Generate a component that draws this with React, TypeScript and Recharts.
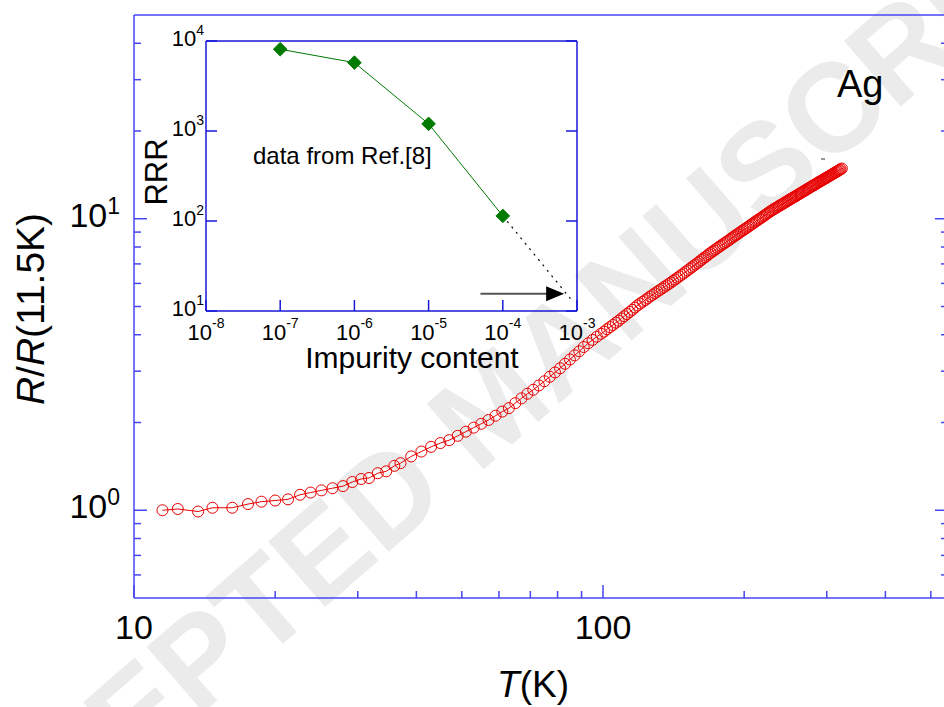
import { Line, LineChart, ReferenceLine, XAxis, YAxis } from "recharts";

// main curve: R/R(11.5K) of Ag vs temperature
const tempK = [
  11.5, 12.4, 13.7, 14.7, 16.2, 17.5, 18.7, 20.0, 21.3, 22.6, 23.8, 25.1, 26.5, 27.9, 29.2, 30.5, 31.7, 33.1, 34.5, 35.9, 37.0,
  39, 41, 43, 45, 47, 49, 51, 53, 55, 57, 59, 61, 63, 65, 67, 69, 71, 73, 75, 77, 79, 81, 83, 85, 87, 89, 91, 93, 95, 97, 99,
  102, 105, 108, 111, 114, 117, 120, 123, 126, 129, 132, 135, 138, 141, 144, 147, 150, 153, 156, 159, 162, 165, 168, 171,
  174, 177, 180, 183, 186, 189, 192, 195, 198, 201, 204, 207, 210, 213, 216, 219, 222, 225, 228, 231, 234, 237, 240, 243,
  246, 249, 252, 255, 258, 261, 264, 267, 270, 273, 276, 279, 282, 285, 288, 291, 294, 297, 300, 303, 306, 309, 312, 315,
  318, 321, 323,
];
const ratio = [
  1.0, 1.01, 0.99, 1.02, 1.02, 1.05, 1.07, 1.08, 1.09, 1.13, 1.15, 1.17, 1.19, 1.21, 1.25, 1.28, 1.29, 1.34, 1.36, 1.42, 1.45,
  1.53, 1.59, 1.65, 1.7, 1.74, 1.8, 1.86, 1.92, 1.98, 2.04, 2.11, 2.18, 2.24, 2.33, 2.42, 2.51, 2.59, 2.68, 2.77, 2.87, 2.97,
  3.07, 3.18, 3.29, 3.4, 3.51, 3.63, 3.74, 3.84, 3.94, 4.03,
  4.18, 4.32, 4.47, 4.63, 4.79, 4.96, 5.12, 5.26, 5.41, 5.55, 5.69, 5.83, 5.97, 6.12, 6.27, 6.42, 6.57, 6.73, 6.89, 7.05,
  7.22, 7.38, 7.55, 7.71, 7.86, 8.02, 8.17, 8.32, 8.47, 8.63, 8.78, 8.93, 9.09, 9.24, 9.39, 9.55, 9.7, 9.86, 10.01, 10.16,
  10.32, 10.48, 10.63, 10.77, 10.91, 11.04, 11.18, 11.31, 11.45, 11.58, 11.72, 11.85, 11.98, 12.12, 12.25, 12.39, 12.52,
  12.66, 12.79, 12.93, 13.06, 13.19, 13.33, 13.46, 13.59, 13.72, 13.85, 13.98, 14.11, 14.25, 14.38, 14.51, 14.64, 14.78,
  14.87,
];
// the in-between readings where the high-T points pile up into a solid band
const tempHalf = [
  100.5, 103.5, 106.5, 109.5, 112.5, 115.5, 118.5, 121.5, 124.5, 127.5, 130.5, 133.5, 136.5, 139.5, 142.5, 145.5, 148.5,
  151.5, 154.5, 157.5, 160.5, 163.5, 166.5, 169.5, 172.5, 175.5, 178.5, 181.5, 184.5, 187.5, 190.5, 193.5, 196.5, 199.5,
  202.5, 205.5, 208.5, 211.5, 214.5, 217.5, 220.5, 223.5, 226.5, 229.5, 232.5, 235.5, 238.5, 241.5, 244.5, 247.5, 250.5,
  253.5, 256.5, 259.5, 262.5, 265.5, 268.5, 271.5, 274.5, 277.5, 280.5, 283.5, 286.5, 289.5, 292.5, 295.5, 298.5, 301.5,
  304.5, 307.5, 310.5, 313.5, 316.5, 319.5,
];
const ratioHalf = [
  4.1, 4.25, 4.4, 4.55, 4.71, 4.87, 5.04, 5.19, 5.33, 5.48, 5.62, 5.76, 5.9, 6.04, 6.19, 6.34, 6.49,
  6.65, 6.81, 6.97, 7.13, 7.3, 7.46, 7.63, 7.78, 7.94, 8.09, 8.24, 8.39, 8.55, 8.7, 8.85, 9.01, 9.16,
  9.31, 9.47, 9.62, 9.78, 9.93, 10.08, 10.24, 10.4, 10.55, 10.7, 10.84, 10.97, 11.11, 11.24, 11.38, 11.51, 11.65,
  11.78, 11.91, 12.05, 12.18, 12.32, 12.45, 12.59, 12.72, 12.86, 12.99, 13.12, 13.26, 13.39, 13.52, 13.65, 13.78, 13.91,
  14.04, 14.18, 14.31, 14.44, 14.57, 14.71,
];

// inset: RRR vs impurity content (Ref. [8])
const impurity = [1e-7, 1e-6, 1e-5, 1e-4];
const rrr = [8100, 5750, 1200, 114];
const extrapImpurity = [1e-4, 8.8e-4];
const extrapRrr = [114, 12.7];
const arrowImpurity = [5.0e-5, 6.7e-4];
const arrowRrr = 15.5;

const mainXTicks = [10, 20, 30, 40, 50, 60, 70, 80, 90, 100, 200, 300, 400, 500];
const mainYTicks = [0.6, 0.7, 0.8, 0.9, 1, 2, 3, 4, 5, 6, 7, 8, 9, 10, 20, 30, 40];
const insetXTicks = [1e-8, 1e-7, 1e-6, 1e-5, 1e-4, 1e-3];
const insetYTicks = [10, 100, 1000, 10000];

const mainData = [
  ...tempK.map((t, i) => ({ t, r: ratio[i] })),
  ...tempHalf.map((t, i) => ({ t, r: ratioHalf[i] })),
].sort((a, b) => a.t - b.t);
const insetData = impurity.map((x, i) => ({ x, y: rrr[i] }));

const FONT = "'Liberation Sans', Arial, sans-serif";
const BLUE = "#4646f0";
const INSET_BLUE = "#1818d8";
const RED = "#e80000";
const GREEN = "#007a00";

const exp10 = (v: number) => Math.round(Math.log10(v));
const isMainX = (v: number) => v === 10 || v === 100;
const isMainY = (v: number) => v === 1 || v === 10;

const BottomTick = (p: any) => {
  const v = p.payload.value;
  const major = isMainX(v);
  return (
    <g>
      <line x1={p.x} y1={p.y} x2={p.x} y2={p.y - (major ? 13 : 7)} stroke={BLUE} strokeWidth={1.5} />
      {major && (
        <text x={p.x} y={p.y + 41} textAnchor="middle" fontSize={34} fontFamily={FONT} fill="#000">
          {v}
        </text>
      )}
    </g>
  );
};

const TopTick = (p: any) => {
  const major = isMainX(p.payload.value);
  return <line x1={p.x} y1={p.y} x2={p.x} y2={p.y + (major ? 13 : 7)} stroke={BLUE} strokeWidth={1.5} />;
};

const LeftTick = (p: any) => {
  const v = p.payload.value;
  const major = isMainY(v);
  return (
    <g>
      <line x1={p.x} y1={p.y} x2={p.x + (major ? 13 : 7)} y2={p.y} stroke={BLUE} strokeWidth={1.5} />
      {major && (
        <text x={p.x - 14} y={p.y + 8} textAnchor="end" fontSize={34} fontFamily={FONT} fill="#000">
          10
          <tspan dy={-13} fontSize={23}>
            {exp10(v)}
          </tspan>
        </text>
      )}
    </g>
  );
};

const RightTick = (p: any) => {
  const major = isMainY(p.payload.value);
  return <line x1={p.x} y1={p.y} x2={p.x - (major ? 13 : 7)} y2={p.y} stroke={BLUE} strokeWidth={1.5} />;
};

const InsetBottomTick = (p: any) => (
  <g>
    <line x1={p.x} y1={p.y} x2={p.x} y2={p.y - 11} stroke={INSET_BLUE} strokeWidth={1.5} />
    <text x={p.x} y={p.y + 29} textAnchor="middle" fontSize={22} fontFamily={FONT} fill="#000">
      10
      <tspan dy={-12} fontSize={14}>
        {exp10(p.payload.value)}
      </tspan>
    </text>
  </g>
);

const InsetTopTick = (p: any) => (
  <line x1={p.x} y1={p.y} x2={p.x} y2={p.y + 11} stroke={INSET_BLUE} strokeWidth={1.5} />
);

const InsetLeftTick = (p: any) => (
  <g>
    <line x1={p.x} y1={p.y} x2={p.x + 11} y2={p.y} stroke={INSET_BLUE} strokeWidth={1.5} />
    <text x={p.x - 2} y={p.y + 5} textAnchor="end" fontSize={22} fontFamily={FONT} fill="#000">
      10
      <tspan dy={-11} fontSize={14}>
        {exp10(p.payload.value)}
      </tspan>
    </text>
  </g>
);

const InsetRightTick = (p: any) => (
  <line x1={p.x} y1={p.y} x2={p.x - 11} y2={p.y} stroke={INSET_BLUE} strokeWidth={1.5} />
);

const Diamond = (p: any) => {
  const { cx, cy } = p;
  if (cx == null || cy == null) return <g />;
  const h = 6.8;
  return (
    <polygon
      points={`${cx},${cy - h} ${cx + h},${cy} ${cx},${cy + h} ${cx - h},${cy}`}
      fill={GREEN}
      stroke={GREEN}
    />
  );
};

const Arrow = (p: any) => {
  const { x1, y1, x2 } = p;
  return (
    <g>
      <line x1={x1} y1={y1} x2={x2 - 12} y2={y1} stroke="#555" strokeWidth={2} />
      <polygon points={`${x2},${y1} ${x2 - 18},${y1 - 7.5} ${x2 - 18},${y1 + 7.5}`} fill="#000" />
    </g>
  );
};

function Watermark() {
  return (
    <svg width={944} height={707} style={{ position: "absolute", left: 0, top: 0 }}>
      <text
        x={490}
        y={404 + 45}
        transform="rotate(-41 490 404)"
        textAnchor="middle"
        fontSize={126}
        fontWeight="bold"
        fontFamily={FONT}
        fill="#ebebeb"
      >
        ACCEPTED MANUSCRIPT
      </text>
    </svg>
  );
}

const axisCommon = {
  type: "number" as const,
  scale: "log" as const,
  allowDataOverflow: true,
  interval: 0 as const,
  tickSize: 0,
  tickMargin: 0,
  tickLine: false,
};

export default function App() {
  return (
    <div
      style={{
        position: "absolute",
        left: 0,
        top: 0,
        width: 944,
        height: 707,
        overflow: "hidden",
        background: "#fff",
        fontFamily: FONT,
      }}
    >
      <Watermark />

      {/* the plot frame runs past the right edge of the picture, so the chart is wider than the page */}
      <div style={{ position: "absolute", left: 0, top: 0, width: 960, height: 707 }}>
        <LineChart width={952} height={707} data={mainData} margin={{ top: 14, right: 3, bottom: 108, left: 133 }}>
          <XAxis
            {...axisCommon}
            xAxisId="b"
            dataKey="t"
            domain={[10, 544]}
            ticks={mainXTicks}
            height={1}
            axisLine={{ stroke: BLUE, strokeWidth: 1.5 }}
            tick={BottomTick}
          />
          <XAxis
            {...axisCommon}
            xAxisId="t"
            orientation="top"
            domain={[10, 544]}
            ticks={mainXTicks}
            height={1}
            axisLine={{ stroke: BLUE, strokeWidth: 1.5 }}
            tick={TopTick}
          />
          <YAxis
            {...axisCommon}
            yAxisId="l"
            domain={[0.5, 50]}
            ticks={mainYTicks}
            width={1}
            axisLine={{ stroke: BLUE, strokeWidth: 1.5 }}
            tick={LeftTick}
          />
          <YAxis
            {...axisCommon}
            yAxisId="r"
            orientation="right"
            domain={[0.5, 50]}
            ticks={mainYTicks}
            width={1}
            axisLine={{ stroke: BLUE, strokeWidth: 1.5 }}
            tick={RightTick}
          />
          <Line
            xAxisId="b"
            yAxisId="l"
            dataKey="r"
            type="linear"
            stroke={RED}
            strokeWidth={1}
            dot={{ r: 5.5, stroke: RED, strokeWidth: 1, fill: "none" }}
            activeDot={false}
            isAnimationActive={false}
          />
        </LineChart>
      </div>

      {/* axis titles and annotation */}
      <svg width={944} height={707} style={{ position: "absolute", left: 0, top: 0, pointerEvents: "none" }}>
        <text x={44} y={309} transform="rotate(-90 44 309)" textAnchor="middle" fontSize={39} fontFamily={FONT}>
          <tspan fontStyle="italic">R</tspan>/<tspan fontStyle="italic">R</tspan>(11.5K)
        </text>
        <text x={533} y={697} textAnchor="middle" fontSize={37} fontFamily={FONT}>
          <tspan fontStyle="italic">T</tspan>(K)
        </text>
        <text x={837} y={97} fontSize={38} fontFamily={FONT}>
          Ag
        </text>
        <line x1={821} y1={159} x2={825} y2={159} stroke="#333" strokeWidth={1} />
      </svg>

      <div style={{ position: "absolute", left: 140, top: 20, width: 460, height: 360 }}>
        <LineChart width={460} height={360} data={insetData} margin={{ top: 20, right: 22, bottom: 68, left: 65 }}>
          <XAxis
            {...axisCommon}
            xAxisId="b"
            dataKey="x"
            domain={[1e-8, 1e-3]}
            ticks={insetXTicks}
            height={1}
            axisLine={{ stroke: INSET_BLUE, strokeWidth: 1.5 }}
            tick={InsetBottomTick}
          />
          <XAxis
            {...axisCommon}
            xAxisId="t"
            orientation="top"
            domain={[1e-8, 1e-3]}
            ticks={insetXTicks}
            height={1}
            axisLine={{ stroke: INSET_BLUE, strokeWidth: 1.5 }}
            tick={InsetTopTick}
          />
          <YAxis
            {...axisCommon}
            yAxisId="l"
            domain={[10, 10000]}
            ticks={insetYTicks}
            width={1}
            axisLine={{ stroke: INSET_BLUE, strokeWidth: 1.5 }}
            tick={InsetLeftTick}
          />
          <YAxis
            {...axisCommon}
            yAxisId="r"
            orientation="right"
            domain={[10, 10000]}
            ticks={insetYTicks}
            width={1}
            axisLine={{ stroke: INSET_BLUE, strokeWidth: 1.5 }}
            tick={InsetRightTick}
          />
          <ReferenceLine
            xAxisId="b"
            yAxisId="l"
            segment={[
              { x: extrapImpurity[0], y: extrapRrr[0] },
              { x: extrapImpurity[1], y: extrapRrr[1] },
            ]}
            stroke="#000"
            strokeWidth={1.2}
            strokeDasharray="2 5"
            ifOverflow="visible"
          />
          <ReferenceLine
            xAxisId="b"
            yAxisId="l"
            segment={[
              { x: arrowImpurity[0], y: arrowRrr },
              { x: arrowImpurity[1], y: arrowRrr },
            ]}
            ifOverflow="visible"
            shape={Arrow}
          />
          <Line
            xAxisId="b"
            yAxisId="l"
            dataKey="y"
            type="linear"
            stroke={GREEN}
            strokeWidth={1}
            dot={Diamond}
            activeDot={false}
            isAnimationActive={false}
          />
        </LineChart>
      </div>

      <svg width={944} height={707} style={{ position: "absolute", left: 0, top: 0, pointerEvents: "none" }}>
        <text x={167} y={172} transform="rotate(-90 167 172)" textAnchor="middle" fontSize={31} fontFamily={FONT}>
          RRR
        </text>
        <text x={412} y={368} textAnchor="middle" fontSize={30} fontFamily={FONT}>
          Impurity content
        </text>
        <text x={253} y={164} fontSize={24} fontFamily={FONT}>
          data from Ref.[8]
        </text>
      </svg>
    </div>
  );
}
